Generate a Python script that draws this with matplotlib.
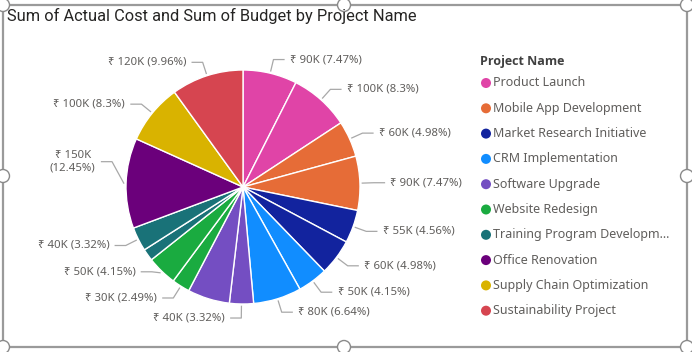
import numpy as np
import matplotlib.pyplot as plt
from matplotlib.patches import Circle, Rectangle

# data (values in thousands of rupees)
projects = ["Product Launch", "Mobile App Development", "Market Research Initiative",
            "CRM Implementation", "Software Upgrade", "Website Redesign",
            "Training Program Development", "Office Renovation",
            "Supply Chain Optimization", "Sustainability Project"]
actual_cost = [90, 60, 55, 50, 40, 30, 20, 150, 100, 120]
budget = [100, 90, 60, 80, 70, 50, 40, 0, 0, 0]
colors = ["#E044A7", "#E66C37", "#12239E", "#118DFF", "#744EC2",
          "#1AAB40", "#197278", "#6B007B", "#D9B300", "#D64550"]
# data labels that Power BI dropped for lack of room: (project, measure)
hidden = [(4, 1), (6, 0)]

FONT = ["Noto Sans", "DejaVu Sans"]
W, H = 692, 352
fig = plt.figure(figsize=(W / 100, H / 100), dpi=100)

# frame + legend layer in pixel coords
ov = fig.add_axes([0, 0, 1, 1])
ov.set_xlim(0, W)
ov.set_ylim(H, 0)
ov.axis("off")
ov.add_patch(Rectangle((3, 5), 684, 342, fill=False, ec="#9a9a9a", lw=1.6))
for hx, hy in [(3, 5), (344, 5), (687, 5), (3, 176), (687, 176), (3, 347), (344, 347), (687, 347)]:
    ov.add_patch(Circle((hx, hy), 6.5, fc="white", ec="#8a8a8a", lw=1, zorder=3))

ov.text(7, 16, "Sum of Actual Cost and Sum of Budget by Project Name", fontsize=11.8,
        family=["Roboto", "DejaVu Sans"], color="#252423", va="center", ha="left")

ov.text(480, 61, "Project Name", fontsize=9, fontweight="bold",
        family=["Open Sans", "DejaVu Sans"], color="#404040", va="center")
for i, (name, c) in enumerate(zip(projects, colors)):
    y = 83 + i * 25.3
    label = name if len(name) <= 26 else name[:25] + "..."
    ov.add_patch(Circle((486, y), 5, fc=c, ec="none"))
    ov.text(493, y, label, fontsize=9, family=FONT, color="#605E5C", va="center")

# pie slices, two per project (actual, budget), blanks skipped
vals, cols, keys = [], [], []
for i in range(len(projects)):
    for j, v in enumerate((actual_cost[i], budget[i])):
        if v > 0:
            vals.append(v)
            cols.append(colors[i])
            keys.append((i, j))
total = sum(vals)

R, cx, cy = 117, 243, 187
ax = fig.add_axes([(cx - R) / W, (H - cy - R) / H, 2 * R / W, 2 * R / H])
wedges, _ = ax.pie(vals, colors=cols, startangle=90, counterclock=False, radius=1,
                   wedgeprops=dict(edgecolor="white", linewidth=1))
ax.set_xlim(-1, 1)
ax.set_ylim(-1, 1)

nudge = {(7, 0): 0.18, (5, 1): 0.08}
for w, v, k in zip(wedges, vals, keys):
    if k in hidden:
        continue
    ang = np.deg2rad((w.theta1 + w.theta2) / 2)
    x, y = np.cos(ang), np.sin(ang)
    side = 1 if x >= 0 else -1
    ey = 1.12 * y + nudge.get(k, 0)
    ex = 1.12 * x
    pct = v / total * 100
    txt = f"₹ {v}K ({pct:.2f}".rstrip("0").rstrip(".") + "%)"
    if pct > 12:
        txt = txt.replace(" (", "\n(")
    ax.plot([1.02 * x, ex, ex + side * 0.09], [1.02 * y, ey, ey], color="#a8a8a8",
            lw=0.9, clip_on=False)
    ax.text(ex + side * 0.14, ey, txt, fontsize=8.2, family=FONT, color="#605E5C",
            ha="left" if side > 0 else "right", va="center",
            multialignment="center")

fig.savefig("out.png", dpi=100)
